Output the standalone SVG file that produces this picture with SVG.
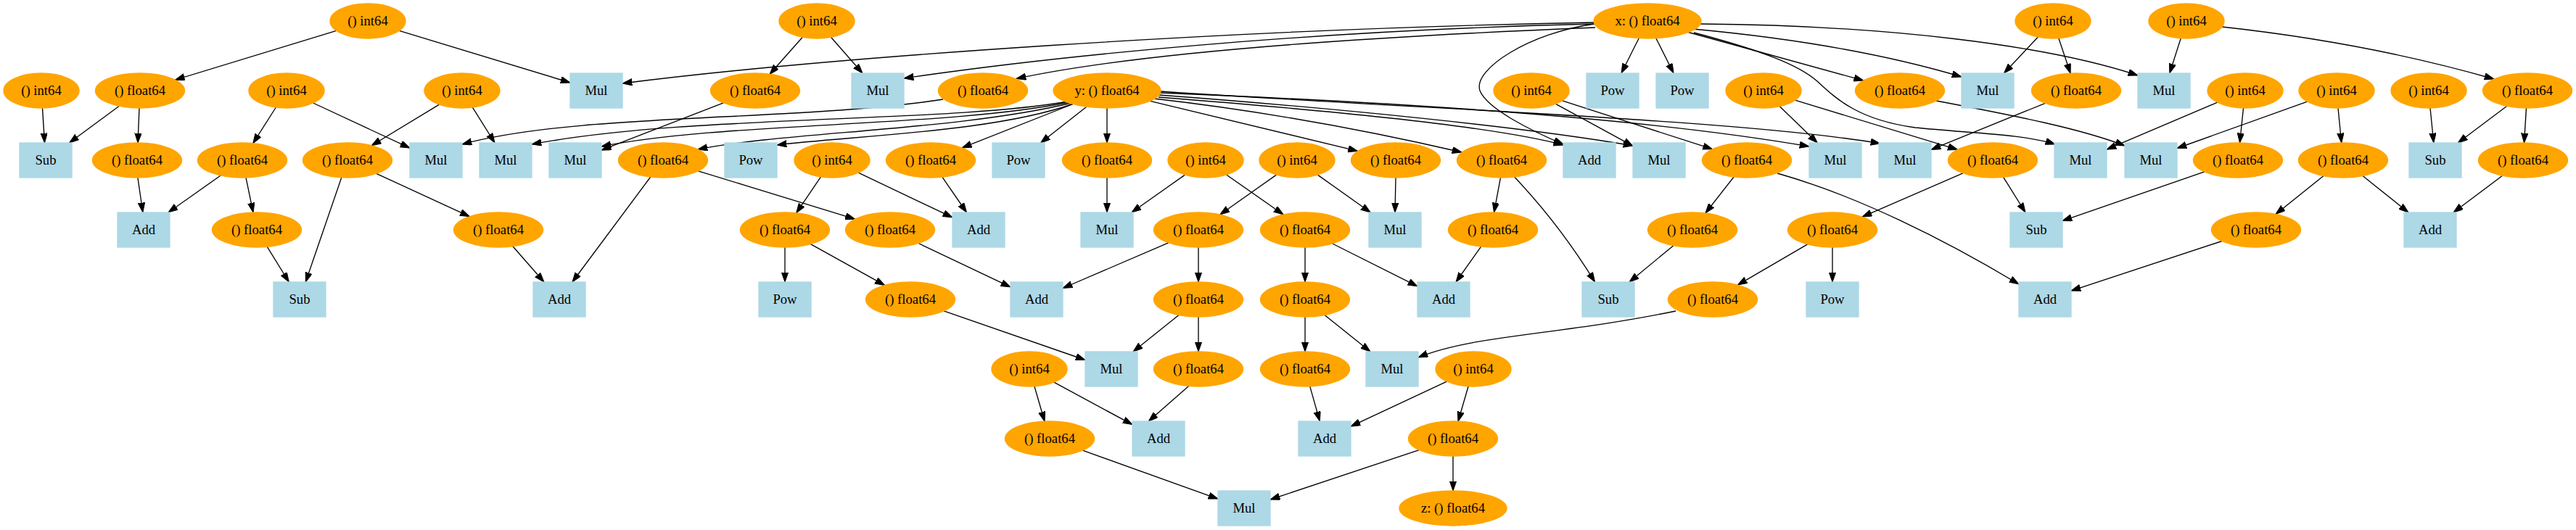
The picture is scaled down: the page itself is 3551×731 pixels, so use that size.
<svg xmlns="http://www.w3.org/2000/svg" width="3551" height="731" viewBox="0 0 3551 731">
<style>
.e{fill:#ffa500;stroke:#ffa500;stroke-width:1.33}
.b{fill:#add8e6;stroke:#add8e6;stroke-width:1.33}
text{font-family:"Liberation Serif","Times New Roman",serif;font-size:18.67px;text-anchor:middle;fill:#000}
.c path{fill:none;stroke:#000;stroke-width:1.33;marker-end:url(#a)}
</style>
<defs>
<marker id="a" markerUnits="userSpaceOnUse" markerWidth="14" markerHeight="10" refX="13.33" refY="4.67" orient="auto">
<path d="M0,0 L13.33,4.67 L0,9.33 z" fill="#000" stroke="#000" stroke-width="1"/>
</marker>
</defs>
<rect width="3551" height="731" fill="#fff"/>
<g class="c" id="connectors">
<path d="M463.6,42.3 L241.4,110.2"/>
<path d="M550.4,42.3 L786,114"/>
<path d="M1106.3,51.2 L1061.1,102.3"/>
<path d="M1145.5,51.3 L1189,101"/>
<path d="M2197,31 C1700,40 1150,78 858,115"/>
<path d="M2197,33 C1800,42 1450,78 1246,108"/>
<path d="M2199,38 C1900,50 1580,70 1401,108.5"/>
<path d="M2198,33 C2110,45 2030,95 2040,125 C2050,150 2110,180 2155,199"/>
<path d="M2259.2,52.7 L2235,101"/>
<path d="M2282.8,52.7 L2307,101"/>
<path d="M2327.4,44.5 L2568.8,111.1"/>
<path d="M2334,40 Q2550,60 2704,106"/>
<path d="M2344,33 C2600,35 2820,62 2947,104"/>
<path d="M2335,45 C2430,70 2480,90 2505,112 C2530,135 2560,165 2640,176 C2720,184 2790,185 2833,199"/>
<path d="M2809.4,51 L2762.5,101"/>
<path d="M2837.9,52.7 L2854.1,101.2"/>
<path d="M3006.3,52.7 L2990.8,101"/>
<path d="M3063,37 C3200,52 3330,78 3438,109"/>
<path d="M58.5,149 L61.5,197"/>
<path d="M164.3,146.2 L95.5,197"/>
<path d="M192,149 L190,197"/>
<path d="M380.4,148 L348.8,197.7"/>
<path d="M431.6,142 L565,204.2"/>
<path d="M605.5,144.1 L512.2,200.8"/>
<path d="M651.4,148.1 L682,197"/>
<path d="M997.3,141.9 L829,207.1"/>
<path d="M1300,137 C1100,168 800,155 637,199"/>
<path d="M1472,140 C1300,170 950,158 733,199"/>
<path d="M1474,141 C1300,176 1000,168 829,202"/>
<path d="M1477,142 C1320,180 1080,182 962,206"/>
<path d="M1480,143 C1370,182 1180,187 1071,200"/>
<path d="M1479,143.5 L1326.2,203.9"/>
<path d="M1497.8,147.2 L1434.5,197"/>
<path d="M1526,149 L1526,197"/>
<path d="M1585.4,139.3 L1871.7,208.4"/>
<path d="M1591,136 Q1800,160 2015,210"/>
<path d="M1597,134 C1800,150 2050,172 2155,200"/>
<path d="M1598,131 C1850,150 2100,175 2251,201"/>
<path d="M1599,128 C1900,140 2250,160 2494,202"/>
<path d="M1600,126 C1950,150 2400,165 2592,198"/>
<path d="M2144.6,143.3 L2251,201.4"/>
<path d="M2153.6,138.8 L2360.6,205.7"/>
<path d="M2453.3,146.7 L2505.3,197"/>
<path d="M2474.4,138.2 L2698.5,206.3"/>
<path d="M2669,139 C2780,160 2870,178 2929,201"/>
<path d="M2819.4,142.3 L2662,206.4"/>
<path d="M3092.5,149 L3087.5,197"/>
<path d="M3056.7,141.2 L2904,206.2"/>
<path d="M3223,149 L3227.7,197"/>
<path d="M3180.6,140.1 L3001,204.5"/>
<path d="M3350,149 L3354.8,197"/>
<path d="M3455.8,146.3 L3388.3,197"/>
<path d="M3482.5,149 L3479.5,197"/>
<path d="M189.9,245 L196.9,293"/>
<path d="M304.2,242 L232,293"/>
<path d="M339,244.9 L349,293.1"/>
<path d="M470.8,244.8 L421.3,389"/>
<path d="M518.7,239.3 L647.3,298.7"/>
<path d="M368.3,340.3 L398.3,389"/>
<path d="M962.4,235.8 L1178.6,302.2"/>
<path d="M896.8,244 L788.9,389"/>
<path d="M1131.5,243.9 L1097.7,293.8"/>
<path d="M1183.2,238.2 L1313,299.9"/>
<path d="M1298.9,244.2 L1332.5,293"/>
<path d="M1526,245 L1526,293"/>
<path d="M1633.5,241.1 L1560,293"/>
<path d="M1690.6,241 L1769.1,296"/>
<path d="M1759.5,241.1 L1681.8,296"/>
<path d="M1816.3,241.1 L1889.3,293"/>
<path d="M1924,245 L1923,293"/>
<path d="M2068.5,245 L2059.5,293"/>
<path d="M2087.6,244 Q2150,310 2198.6,389"/>
<path d="M2390.1,244 L2350.9,294"/>
<path d="M2450,239 C2560,270 2680,330 2783,392"/>
<path d="M2705.9,238.9 L2567.1,299.1"/>
<path d="M2761.6,244.3 L2792,293"/>
<path d="M3038.9,236.9 L2843,304.6"/>
<path d="M3203,242.6 L3137,295.4"/>
<path d="M3257,242.6 L3320,293"/>
<path d="M3449.6,242.3 L3382,293"/>
<path d="M706.9,339.7 L750,389"/>
<path d="M1082,341 L1082,389"/>
<path d="M1117.4,336.6 L1219.6,393.4"/>
<path d="M1266,335.5 L1393,395.9"/>
<path d="M1610.7,334.8 L1465,397.5"/>
<path d="M1652,341 L1652,389"/>
<path d="M1799,341 L1799,389"/>
<path d="M1836.7,336 L1954,394.9"/>
<path d="M2041.6,340.1 L2007,389"/>
<path d="M2306.8,338.7 L2246,389"/>
<path d="M2526,341 L2526,389"/>
<path d="M2491.7,336.9 L2395.3,393.1"/>
<path d="M3063,332.5 L2855,401.1"/>
<path d="M1301,428.9 L1496,496.5"/>
<path d="M1625,434.6 L1562,485"/>
<path d="M1652,437 L1652,485"/>
<path d="M1799,437 L1799,485"/>
<path d="M1826,434.6 L1889,485"/>
<path d="M2310,429 C2150,462 2030,462 1955,493"/>
<path d="M1638.6,532.4 L1583.3,581"/>
<path d="M1425.9,532.8 L1440,581.2"/>
<path d="M1452.8,527.2 L1561,585.6"/>
<path d="M1805.7,532.9 L1819.3,581"/>
<path d="M1994.5,526.1 L1862,588.1"/>
<path d="M2024.1,532.8 L2010,581.2"/>
<path d="M1492.3,621.2 L1679,688.1"/>
<path d="M1956.2,620.6 L1751,689"/>
<path d="M2003,629 L2003,677"/>
</g>
<g id="A1"><ellipse class="e" cx="507" cy="29" rx="52" ry="24"/><text x="507" y="35">() int64</text></g>
<g id="A2"><ellipse class="e" cx="1126" cy="29" rx="52" ry="24"/><text x="1126" y="35">() int64</text></g>
<g id="X"><ellipse class="e" cx="2271" cy="29" rx="74" ry="24"/><text x="2271" y="35">x: () float64</text></g>
<g id="A3"><ellipse class="e" cx="2830" cy="29" rx="52" ry="24"/><text x="2830" y="35">() int64</text></g>
<g id="A4"><ellipse class="e" cx="3014" cy="29" rx="52" ry="24"/><text x="3014" y="35">() int64</text></g>
<g id="B1"><ellipse class="e" cx="57" cy="125" rx="52" ry="24"/><text x="57" y="131">() int64</text></g>
<g id="B2"><ellipse class="e" cx="193" cy="125" rx="61.5" ry="24"/><text x="193" y="131">() float64</text></g>
<g id="B3"><ellipse class="e" cx="395" cy="125" rx="52" ry="24"/><text x="395" y="131">() int64</text></g>
<g id="B4"><ellipse class="e" cx="637" cy="125" rx="52" ry="24"/><text x="637" y="131">() int64</text></g>
<g id="B5"><rect class="b" x="786" y="101" width="72" height="48"/><text x="822" y="131">Mul</text></g>
<g id="B6"><ellipse class="e" cx="1041" cy="125" rx="61.5" ry="24"/><text x="1041" y="131">() float64</text></g>
<g id="B7"><rect class="b" x="1174" y="101" width="72" height="48"/><text x="1210" y="131">Mul</text></g>
<g id="B8"><ellipse class="e" cx="1355" cy="125" rx="61.5" ry="24"/><text x="1355" y="131">() float64</text></g>
<g id="Y"><ellipse class="e" cx="1526" cy="125" rx="74" ry="24"/><text x="1526" y="131">y: () float64</text></g>
<g id="B9"><ellipse class="e" cx="2111" cy="125" rx="52" ry="24"/><text x="2111" y="131">() int64</text></g>
<g id="B10"><rect class="b" x="2187" y="101" width="72" height="48"/><text x="2223" y="131">Pow</text></g>
<g id="B11"><rect class="b" x="2283" y="101" width="72" height="48"/><text x="2319" y="131">Pow</text></g>
<g id="B12"><ellipse class="e" cx="2431" cy="125" rx="52" ry="24"/><text x="2431" y="131">() int64</text></g>
<g id="B13"><ellipse class="e" cx="2619" cy="125" rx="61.5" ry="24"/><text x="2619" y="131">() float64</text></g>
<g id="B14"><rect class="b" x="2704" y="101" width="72" height="48"/><text x="2740" y="131">Mul</text></g>
<g id="B15"><ellipse class="e" cx="2862" cy="125" rx="61.5" ry="24"/><text x="2862" y="131">() float64</text></g>
<g id="B16"><rect class="b" x="2947" y="101" width="72" height="48"/><text x="2983" y="131">Mul</text></g>
<g id="B17"><ellipse class="e" cx="3095" cy="125" rx="52" ry="24"/><text x="3095" y="131">() int64</text></g>
<g id="B18"><ellipse class="e" cx="3221" cy="125" rx="52" ry="24"/><text x="3221" y="131">() int64</text></g>
<g id="B19"><ellipse class="e" cx="3348" cy="125" rx="52" ry="24"/><text x="3348" y="131">() int64</text></g>
<g id="B20"><ellipse class="e" cx="3484" cy="125" rx="61.5" ry="24"/><text x="3484" y="131">() float64</text></g>
<g id="C1"><rect class="b" x="27" y="197" width="72" height="48"/><text x="63" y="227">Sub</text></g>
<g id="C2"><ellipse class="e" cx="189" cy="221" rx="61.5" ry="24"/><text x="189" y="227">() float64</text></g>
<g id="C3"><ellipse class="e" cx="334" cy="221" rx="61.5" ry="24"/><text x="334" y="227">() float64</text></g>
<g id="C4"><ellipse class="e" cx="479" cy="221" rx="61.5" ry="24"/><text x="479" y="227">() float64</text></g>
<g id="C5"><rect class="b" x="565" y="197" width="72" height="48"/><text x="601" y="227">Mul</text></g>
<g id="C6"><rect class="b" x="661" y="197" width="72" height="48"/><text x="697" y="227">Mul</text></g>
<g id="C7"><rect class="b" x="757" y="197" width="72" height="48"/><text x="793" y="227">Mul</text></g>
<g id="C8"><ellipse class="e" cx="914" cy="221" rx="61.5" ry="24"/><text x="914" y="227">() float64</text></g>
<g id="C9"><rect class="b" x="999" y="197" width="72" height="48"/><text x="1035" y="227">Pow</text></g>
<g id="C10"><ellipse class="e" cx="1147" cy="221" rx="52" ry="24"/><text x="1147" y="227">() int64</text></g>
<g id="C11"><ellipse class="e" cx="1283" cy="221" rx="61.5" ry="24"/><text x="1283" y="227">() float64</text></g>
<g id="C12"><rect class="b" x="1368" y="197" width="72" height="48"/><text x="1404" y="227">Pow</text></g>
<g id="C13"><ellipse class="e" cx="1526" cy="221" rx="61.5" ry="24"/><text x="1526" y="227">() float64</text></g>
<g id="C14"><ellipse class="e" cx="1662" cy="221" rx="52" ry="24"/><text x="1662" y="227">() int64</text></g>
<g id="C15"><ellipse class="e" cx="1788" cy="221" rx="52" ry="24"/><text x="1788" y="227">() int64</text></g>
<g id="C16"><ellipse class="e" cx="1924" cy="221" rx="61.5" ry="24"/><text x="1924" y="227">() float64</text></g>
<g id="C17"><ellipse class="e" cx="2070" cy="221" rx="61.5" ry="24"/><text x="2070" y="227">() float64</text></g>
<g id="C18"><rect class="b" x="2155" y="197" width="72" height="48"/><text x="2191" y="227">Add</text></g>
<g id="C19"><rect class="b" x="2251" y="197" width="72" height="48"/><text x="2287" y="227">Mul</text></g>
<g id="C20"><ellipse class="e" cx="2408" cy="221" rx="61.5" ry="24"/><text x="2408" y="227">() float64</text></g>
<g id="C21"><rect class="b" x="2494" y="197" width="72" height="48"/><text x="2530" y="227">Mul</text></g>
<g id="C22"><rect class="b" x="2590" y="197" width="72" height="48"/><text x="2626" y="227">Mul</text></g>
<g id="C23"><ellipse class="e" cx="2747" cy="221" rx="61.5" ry="24"/><text x="2747" y="227">() float64</text></g>
<g id="C24"><rect class="b" x="2832" y="197" width="72" height="48"/><text x="2868" y="227">Mul</text></g>
<g id="C25"><rect class="b" x="2929" y="197" width="72" height="48"/><text x="2965" y="227">Mul</text></g>
<g id="C26"><ellipse class="e" cx="3085" cy="221" rx="61.5" ry="24"/><text x="3085" y="227">() float64</text></g>
<g id="C27"><ellipse class="e" cx="3230" cy="221" rx="61.5" ry="24"/><text x="3230" y="227">() float64</text></g>
<g id="C28"><rect class="b" x="3321" y="197" width="72" height="48"/><text x="3357" y="227">Sub</text></g>
<g id="C29"><ellipse class="e" cx="3478" cy="221" rx="61.5" ry="24"/><text x="3478" y="227">() float64</text></g>
<g id="D1"><rect class="b" x="162" y="293" width="72" height="48"/><text x="198" y="323">Add</text></g>
<g id="D2"><ellipse class="e" cx="354" cy="317" rx="61.5" ry="24"/><text x="354" y="323">() float64</text></g>
<g id="D3"><ellipse class="e" cx="687" cy="317" rx="61.5" ry="24"/><text x="687" y="323">() float64</text></g>
<g id="D4"><ellipse class="e" cx="1082" cy="317" rx="61.5" ry="24"/><text x="1082" y="323">() float64</text></g>
<g id="D5"><ellipse class="e" cx="1227" cy="317" rx="61.5" ry="24"/><text x="1227" y="323">() float64</text></g>
<g id="D6"><rect class="b" x="1313" y="293" width="72" height="48"/><text x="1349" y="323">Add</text></g>
<g id="D7"><rect class="b" x="1490" y="293" width="72" height="48"/><text x="1526" y="323">Mul</text></g>
<g id="D8"><ellipse class="e" cx="1652" cy="317" rx="61.5" ry="24"/><text x="1652" y="323">() float64</text></g>
<g id="D9"><ellipse class="e" cx="1799" cy="317" rx="61.5" ry="24"/><text x="1799" y="323">() float64</text></g>
<g id="D10"><rect class="b" x="1887" y="293" width="72" height="48"/><text x="1923" y="323">Mul</text></g>
<g id="D11"><ellipse class="e" cx="2058" cy="317" rx="61.5" ry="24"/><text x="2058" y="323">() float64</text></g>
<g id="D12"><ellipse class="e" cx="2333" cy="317" rx="61.5" ry="24"/><text x="2333" y="323">() float64</text></g>
<g id="D13"><ellipse class="e" cx="2526" cy="317" rx="61.5" ry="24"/><text x="2526" y="323">() float64</text></g>
<g id="D14"><rect class="b" x="2771" y="293" width="72" height="48"/><text x="2807" y="323">Sub</text></g>
<g id="D15"><ellipse class="e" cx="3110" cy="317" rx="61.5" ry="24"/><text x="3110" y="323">() float64</text></g>
<g id="D16"><rect class="b" x="3314" y="293" width="72" height="48"/><text x="3350" y="323">Add</text></g>
<g id="E1"><rect class="b" x="377" y="389" width="72" height="48"/><text x="413" y="419">Sub</text></g>
<g id="E2"><rect class="b" x="735" y="389" width="72" height="48"/><text x="771" y="419">Add</text></g>
<g id="E3"><rect class="b" x="1046" y="389" width="72" height="48"/><text x="1082" y="419">Pow</text></g>
<g id="E4"><ellipse class="e" cx="1255" cy="413" rx="61.5" ry="24"/><text x="1255" y="419">() float64</text></g>
<g id="E5"><rect class="b" x="1393" y="389" width="72" height="48"/><text x="1429" y="419">Add</text></g>
<g id="E6"><ellipse class="e" cx="1652" cy="413" rx="61.5" ry="24"/><text x="1652" y="419">() float64</text></g>
<g id="E7"><ellipse class="e" cx="1799" cy="413" rx="61.5" ry="24"/><text x="1799" y="419">() float64</text></g>
<g id="E8"><rect class="b" x="1954" y="389" width="72" height="48"/><text x="1990" y="419">Add</text></g>
<g id="E9"><rect class="b" x="2181" y="389" width="72" height="48"/><text x="2217" y="419">Sub</text></g>
<g id="E10"><ellipse class="e" cx="2361" cy="413" rx="61.5" ry="24"/><text x="2361" y="419">() float64</text></g>
<g id="E11"><rect class="b" x="2490" y="389" width="72" height="48"/><text x="2526" y="419">Pow</text></g>
<g id="E12"><rect class="b" x="2783" y="389" width="72" height="48"/><text x="2819" y="419">Add</text></g>
<g id="F1"><ellipse class="e" cx="1419" cy="509" rx="52" ry="24"/><text x="1419" y="515">() int64</text></g>
<g id="F2"><rect class="b" x="1496" y="485" width="72" height="48"/><text x="1532" y="515">Mul</text></g>
<g id="F3"><ellipse class="e" cx="1652" cy="509" rx="61.5" ry="24"/><text x="1652" y="515">() float64</text></g>
<g id="F4"><ellipse class="e" cx="1799" cy="509" rx="61.5" ry="24"/><text x="1799" y="515">() float64</text></g>
<g id="F5"><rect class="b" x="1883" y="485" width="72" height="48"/><text x="1919" y="515">Mul</text></g>
<g id="F6"><ellipse class="e" cx="2031" cy="509" rx="52" ry="24"/><text x="2031" y="515">() int64</text></g>
<g id="G1"><ellipse class="e" cx="1447" cy="605" rx="61.5" ry="24"/><text x="1447" y="611">() float64</text></g>
<g id="G2"><rect class="b" x="1561" y="581" width="72" height="48"/><text x="1597" y="611">Add</text></g>
<g id="G3"><rect class="b" x="1790" y="581" width="72" height="48"/><text x="1826" y="611">Add</text></g>
<g id="G4"><ellipse class="e" cx="2003" cy="605" rx="61.5" ry="24"/><text x="2003" y="611">() float64</text></g>
<g id="H1"><rect class="b" x="1679" y="677" width="72" height="48"/><text x="1715" y="707">Mul</text></g>
<g id="Z"><ellipse class="e" cx="2003" cy="701" rx="74" ry="24"/><text x="2003" y="707">z: () float64</text></g>
</svg>
